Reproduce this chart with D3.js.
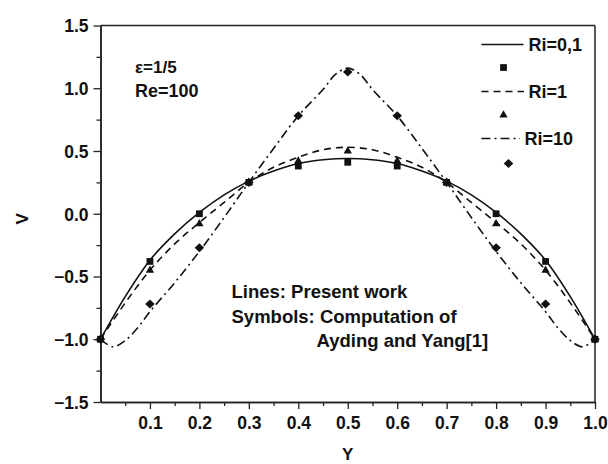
<!DOCTYPE html>
<html><head><meta charset="utf-8">
<script src="https://cdn.jsdelivr.net/npm/d3@7"></script>
<style>
html,body{margin:0;padding:0;background:#fff;}
svg text{font-family:"Liberation Sans",Arial,sans-serif;font-weight:bold;fill:#111;}
</style></head>
<body>
<svg id="chart" width="608" height="464"></svg>
<script>
// ---- data ----
const symbolX = [0, 0.1, 0.2, 0.3, 0.4, 0.5, 0.6, 0.7, 0.8, 0.9, 1.0];
const symRi01 = [-1, -0.38, 0.00, 0.25, 0.38, 0.41, 0.38, 0.25, 0.00, -0.38, -1];
const symRi1  = [-1, -0.45, -0.08, 0.25, 0.42, 0.50, 0.42, 0.25, -0.08, -0.45, -1];
const symRi10 = [-1, -0.72, -0.27, 0.25, 0.78, 1.13, 0.78, 0.25, -0.27, -0.72, -1];

const lineX01 = [0, 0.05, 0.1, 0.15, 0.2, 0.25, 0.3, 0.35, 0.4, 0.45, 0.5, 0.55, 0.6, 0.65, 0.7, 0.75, 0.8, 0.85, 0.9, 0.95, 1.0];
const lineRi01 = [-1, -0.66, -0.37, -0.16, 0.01, 0.15, 0.26, 0.34, 0.40, 0.43, 0.44, 0.43, 0.40, 0.34, 0.26, 0.15, 0.01, -0.16, -0.37, -0.66, -1];
const lineRi1  = [-1, -0.71, -0.45, -0.24, -0.07, 0.09, 0.25, 0.37, 0.45, 0.51, 0.53, 0.51, 0.45, 0.37, 0.25, 0.09, -0.07, -0.24, -0.45, -0.71, -1];
const lineX10 = [0, 0.025, 0.05, 0.075, 0.1, 0.15, 0.2, 0.25, 0.3, 0.35, 0.4, 0.45, 0.475, 0.5, 0.525, 0.55, 0.6, 0.65, 0.7, 0.75, 0.8, 0.85, 0.9, 0.925, 0.95, 0.975, 1.0];
const lineRi10 = [-1, -1.06, -1.01, -0.91, -0.78, -0.55, -0.30, -0.03, 0.25, 0.52, 0.78, 0.99, 1.11, 1.16, 1.11, 0.99, 0.78, 0.52, 0.25, -0.03, -0.30, -0.55, -0.78, -0.91, -1.01, -1.06, -1];

const xTicks = [0.1, 0.2, 0.3, 0.4, 0.5, 0.6, 0.7, 0.8, 0.9, 1.0];
const xMinor = [0.05, 0.15, 0.25, 0.35, 0.45, 0.55, 0.65, 0.75, 0.85, 0.95];
const yTicks = [-1.5, -1.0, -0.5, 0.0, 0.5, 1.0, 1.5];
const yMinor = [-1.25, -0.75, -0.25, 0.25, 0.75, 1.25];
const legendLabels = ["Ri=0,1", "Ri=1", "Ri=10"];
const dashes = [null, "7,5", "9,4,2,4"];

// ---- drawing ----
const svg = d3.select("#chart");
const L = 100.5, R = 595, T = 25.5, B = 402;
const x = d3.scaleLinear().domain([0, 1]).range([L, R]);
const y = d3.scaleLinear().domain([-1.5, 1.5]).range([B, T]);
const axisColor = "#222";

// frame top/right
svg.append("line").attr("x1", L).attr("x2", R).attr("y1", T).attr("y2", T).attr("stroke", axisColor).attr("stroke-width", 1.5);
svg.append("line").attr("x1", R).attr("x2", R).attr("y1", T).attr("y2", B).attr("stroke", axisColor).attr("stroke-width", 1.5);

// axes
const xAxis = svg.append("g").attr("transform", `translate(0,${B})`)
  .call(d3.axisBottom(x).tickValues(xTicks).tickFormat(d3.format(".1f")).tickSize(7).tickSizeOuter(0));
const xAxisMinor = svg.append("g").attr("transform", `translate(0,${B})`)
  .call(d3.axisBottom(x).tickValues(xMinor).tickFormat("").tickSize(4).tickSizeOuter(0));
const yAxis = svg.append("g").attr("transform", `translate(${L},0)`)
  .call(d3.axisLeft(y).tickValues(yTicks).tickFormat(d3.format(".1f")).tickSize(7).tickSizeOuter(0));
const yAxisMinor = svg.append("g").attr("transform", `translate(${L},0)`)
  .call(d3.axisLeft(y).tickValues(yMinor).tickFormat("").tickSize(4).tickSizeOuter(0));
[xAxis, xAxisMinor, yAxis, yAxisMinor].forEach(g => {
  g.selectAll("path.domain").attr("stroke", axisColor).attr("stroke-width", 1.5);
  g.selectAll(".tick line").attr("stroke", axisColor).attr("stroke-width", 1.3);
  g.selectAll(".tick text").attr("font-family", "Liberation Sans, Arial, sans-serif")
   .attr("font-weight", "bold").attr("font-size", 17.5).attr("fill", "#111");
});
xAxis.selectAll(".tick text").attr("dy", null).attr("y", 27);
yAxis.selectAll(".tick text").attr("x", -12).attr("dy", "0.36em");

// axis titles
svg.append("text").attr("x", (L + R) / 2).attr("y", 460).attr("text-anchor", "middle").attr("font-size", 17).text("Y");
svg.append("text").attr("transform", `translate(28,${(T + B) / 2 + 5}) rotate(-90)`).attr("text-anchor", "middle").attr("font-size", 17).text("V");

// curves
const lineGen = d3.line().x(d => x(d[0])).y(d => y(d[1])).curve(d3.curveCatmullRom.alpha(0.5));
const curves = [d3.zip(lineX01, lineRi01), d3.zip(lineX01, lineRi1), d3.zip(lineX10, lineRi10)];
curves.forEach((c, i) => {
  svg.append("path").datum(c).attr("d", lineGen).attr("fill", "none")
    .attr("stroke", "#111").attr("stroke-width", 1.6)
    .attr("stroke-dasharray", dashes[i]);
});

// symbols
const sq = d3.symbol().type(d3.symbolSquare).size(46);
const tri = d3.symbol().type(d3.symbolTriangle).size(30);
const diamondPath = (w, h) => `M0,${-h/2}L${w/2},0L0,${h/2}L${-w/2},0Z`;
const symPaths = [sq(), tri(), diamondPath(9.5, 9)];
const symData = [symRi01, symRi1, symRi10];
symData.forEach((vals, i) => {
  svg.append("g").selectAll("path").data(d3.zip(symbolX, vals)).join("path")
    .attr("transform", d => `translate(${x(d[0])},${y(d[1])})`)
    .attr("d", symPaths[i]).attr("fill", "#111");
});

// legend
const legLineY = [44.5, 91.5, 138.5];
const legSymY = [67.5, 115, 163.5];
const legSymX = [503.5, 503.5, 508.5];
const legLineEnd = [523.5, 524, 520];
const legTextX = [528.5, 528.5, 524.5];
legendLabels.forEach((lab, i) => {
  svg.append("line").attr("x1", 481.5).attr("x2", legLineEnd[i]).attr("y1", legLineY[i]).attr("y2", legLineY[i])
    .attr("stroke", "#111").attr("stroke-width", 1.6).attr("stroke-dasharray", dashes[i]);
  svg.append("text").attr("x", legTextX[i]).attr("y", legLineY[i] + 6.5).attr("font-size", 18).text(lab);
  svg.append("path").attr("transform", `translate(${legSymX[i]},${legSymY[i]})`).attr("d", symPaths[i]).attr("fill", "#111");
});

// annotations
svg.append("text").attr("x", 135).attr("y", 72.5).attr("font-family", "Liberation Serif, Times New Roman, serif")
  .attr("font-weight", "normal").attr("font-size", 17).text("ε=1/5");
svg.append("text").attr("x", 135).attr("y", 96.5).attr("font-size", 18).text("Re=100");
svg.append("text").attr("x", 231.5).attr("y", 298).attr("font-size", 18.5).text("Lines: Present work");
svg.append("text").attr("x", 231.5).attr("y", 323).attr("font-size", 18.5).text("Symbols: Computation of");
svg.append("text").attr("x", 316.5).attr("y", 347).attr("font-size", 18.5).text("Ayding and Yang[1]");
</script>
</body></html>
